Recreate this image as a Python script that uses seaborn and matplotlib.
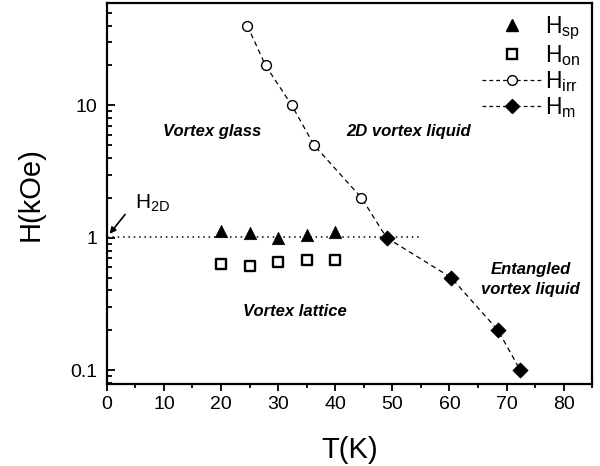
import matplotlib
matplotlib.use("Agg")
import matplotlib.pyplot as plt
import matplotlib.ticker as mticker
from matplotlib.lines import Line2D
import seaborn as sns
import pandas as pd

# Phase-diagram data: temperature (K) and field (kOe)
T_sp = [20, 25, 30, 35, 40]
H_sp = [1.12, 1.09, 0.99, 1.04, 1.10]

T_on = [20, 25, 30, 35, 40]
H_on = [0.63, 0.61, 0.66, 0.68, 0.68]

T_irr = [24.6, 27.8, 32.4, 36.3, 44.6]
H_irr = [40, 20, 10, 5, 2]

T_m = [49, 60.3, 68.5, 72.4]
H_m = [1.0, 0.5, 0.2, 0.1]

H_2D = 1.02
T_2D_end = 55

sns.set_theme(style="ticks")
plt.rcParams["font.family"] = ["Liberation Sans", "DejaVu Sans"]
plt.rcParams["mathtext.default"] = "regular"
for key in ("text.color", "axes.labelcolor", "xtick.color", "ytick.color",
            "axes.edgecolor"):
    plt.rcParams[key] = "black"

fig, ax = plt.subplots(figsize=(6.0, 4.66), dpi=100)
fig.subplots_adjust(left=0.178, right=0.987, top=0.993, bottom=0.175)

dash = (4, 3)

# H2D crossover line
ax.plot([0, T_2D_end], [H_2D, H_2D], color="black", lw=1.1, linestyle=(0, (1, 2.5)))

# Irreversibility line joined to the melting line
irr_df = pd.DataFrame({"T": T_irr + [T_m[0]], "H": H_irr + [H_m[0]]})
sns.lineplot(data=irr_df, x="T", y="H", ax=ax, color="black", lw=0.9,
             sort=False, estimator=None)
ax.lines[-1].set_dashes(dash)
m_df = pd.DataFrame({"T": T_m, "H": H_m})
sns.lineplot(data=m_df, x="T", y="H", ax=ax, color="black", lw=0.9,
             sort=False, estimator=None)
ax.lines[-1].set_dashes(dash)

# Markers
sns.scatterplot(x=T_sp, y=H_sp, ax=ax, marker="^", s=80, color="black",
                edgecolor="black", linewidth=0.5, zorder=5)
sns.scatterplot(x=T_on, y=H_on, ax=ax, marker="s", s=45, facecolor="white",
                edgecolor="black", linewidth=1.7, zorder=5)
sns.scatterplot(x=T_irr, y=H_irr, ax=ax, marker="o", s=50, facecolor="white",
                edgecolor="black", linewidth=1.0, zorder=5)
sns.scatterplot(x=T_m, y=H_m, ax=ax, marker="D", s=60, color="black",
                edgecolor="black", linewidth=0.5, zorder=5)

ax.set_yscale("log")
ax.set_xlim(0, 85)
ax.set_ylim(0.078, 59)

ax.xaxis.set_major_locator(mticker.MultipleLocator(10))
ax.xaxis.set_minor_locator(mticker.MultipleLocator(5))
ax.yaxis.set_major_locator(mticker.FixedLocator([0.1, 1, 10]))
ax.yaxis.set_major_formatter(mticker.FixedFormatter(["0.1", "1", "10"]))
ax.yaxis.set_minor_locator(mticker.LogLocator(base=10, subs=range(2, 10)))
ax.yaxis.set_minor_formatter(mticker.NullFormatter())

ax.tick_params(axis="x", which="major", direction="out", length=5, width=1.3,
               labelsize=14, pad=3, top=False)
ax.tick_params(axis="x", which="minor", direction="out", length=3, width=1.3, top=False)
ax.tick_params(axis="y", which="major", direction="in", length=6, width=1.3,
               labelsize=14, pad=7, right=False)
ax.tick_params(axis="y", which="minor", direction="in", length=3.5, width=1.3, right=False)
for sp in ax.spines.values():
    sp.set_linewidth(1.6)
    sp.set_visible(True)

ax.set_xlabel("T(K)", fontsize=21, labelpad=17)
ax.set_ylabel("H(kOe)", fontsize=21, labelpad=18)

# Region labels
region_kw = dict(fontsize=12, fontweight="bold", fontstyle="italic",
                 ha="center", va="center")
ax.text(18.4, 6.3, "Vortex glass", **region_kw)
ax.text(52.8, 6.3, "2D vortex liquid", **region_kw)
ax.text(74.2, 0.485, "Entangled\nvortex liquid", linespacing=1.45, **region_kw)
ax.text(33.0, 0.275, "Vortex lattice", **region_kw)

# H2D label with arrow
ax.text(4.9, 1.81, "H$_{2D}$", fontsize=15, ha="left", va="center")
ax.annotate("", xy=(0.5, 1.07), xytext=(3.2, 1.5),
            arrowprops=dict(arrowstyle="-|>", color="black", lw=1.2,
                            mutation_scale=9, shrinkA=0, shrinkB=0))

handles = [
    Line2D([], [], marker="^", color="black", linestyle="none", markersize=9),
    Line2D([], [], marker="s", color="black", markerfacecolor="white",
           markeredgewidth=1.7, linestyle="none", markersize=6.5),
    Line2D([], [], marker="o", color="black", markerfacecolor="white",
           linestyle=(0, (3, 2.5)), lw=0.9, markersize=7),
    Line2D([], [], marker="D", color="black", linestyle=(0, (3, 2.5)),
           lw=0.9, markersize=7),
]
labels = ["H$_{sp}$", "H$_{on}$", "H$_{irr}$", "H$_{m}$"]
ax.legend(handles, labels, loc="upper right", frameon=False, fontsize=16.5,
          handlelength=2.6, handletextpad=0.15, labelspacing=0.05,
          borderaxespad=0.3, borderpad=0.2)

fig.savefig("out.png", dpi=100)
